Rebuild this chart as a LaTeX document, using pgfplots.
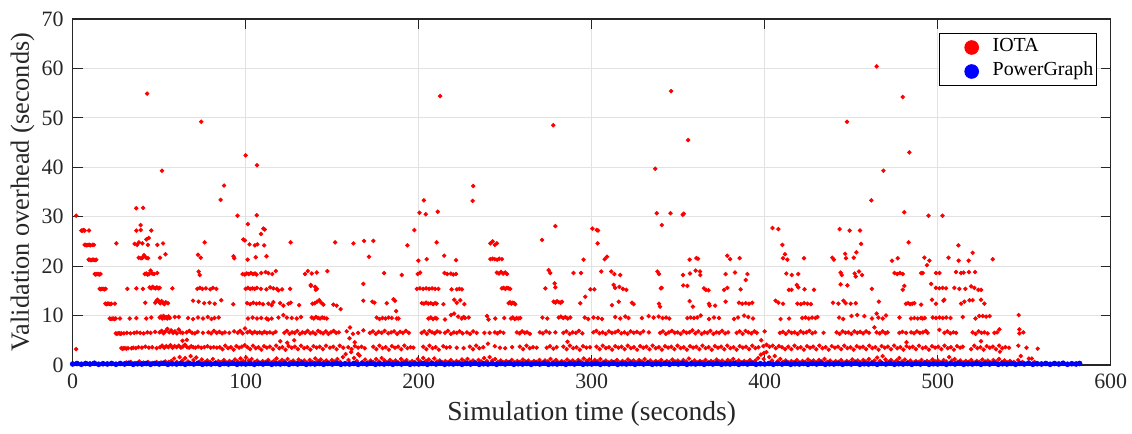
\documentclass[border=0pt]{standalone}
\usepackage{pgfplots}
\pgfplotsset{compat=1.18}
\usepackage{fontspec}
\setmainfont{Liberation Serif}
\usetikzlibrary{calc}
\definecolor{axgray}{RGB}{38,38,38}
\definecolor{gridgray}{RGB}{226,226,226}
\begin{document}
\begin{tikzpicture}
\begin{axis}[
  name=ax,
  scale only axis, width=519bp, height=173bp,
  xmin=0, xmax=600, ymin=0, ymax=70,
  xtick={0,100,...,600}, ytick={0,10,...,70},
  /pgf/number format/assume math mode=true,
  xticklabel={\rmfamily\pgfmathprintnumber[assume math mode=true]{\tick}},
  yticklabel={\rmfamily\pgfmathprintnumber[assume math mode=true]{\tick}},
  grid=major, major grid style={color=gridgray, line width=0.5bp},
  axis line style={color=axgray, line width=0.7bp},
  tick style={color=axgray, line width=0.6bp},
  major tick length=5bp, tick align=inside,
  ticklabel style={font=\rmfamily\fontsize{11}{13}\selectfont, color=axgray},
  xticklabel style={yshift=-1.2bp},
  yticklabel style={xshift=-1bp},
  xlabel={Simulation time (seconds)},
  ylabel={Validation overhead (seconds)},
  xlabel style={at={(axis description cs:0.5,-0.14)}, anchor=center, font=\fontsize{13.8}{16}\selectfont, color=axgray},
  ylabel style={at={(axis description cs:-0.0484,0.5)}, anchor=center, rotate=0, font=\fontsize{13.2}{16}\selectfont, color=axgray},
  legend style={at={(axis description cs:0.9867,0.9595)}, anchor=north east, draw=black, line width=0.5bp, fill=white,
    font=\fontsize{10}{12}\selectfont, inner xsep=1bp, inner ysep=1bp,
    nodes={inner sep=0.5bp, text height=7.5bp, text depth=3.5bp},
    /tikz/every even column/.append style={column sep=5.5bp}},
  legend cell align=left,
  legend image code/.code={\path[draw=none,fill=none] (0bp,0bp) -- (25bp,0bp); \draw[#1, mark size=3.4bp] plot coordinates {(15bp,0bp)};},
]
% IOTA
\addplot[only marks, mark=*, color=red, mark size=0.9bp, mark options={draw=none, fill=red}] coordinates {
(2,30.2)(2,3.2)(43,54.9)(51.6,39.3)(74.3,49.2)(85.5,33.4)(87.5,36.3)(95.3,30.2)(106.4,30.3)(100,42.4)(106.5,40.4)(36.7,31.7)(40.7,31.8)(39.3,28.3)(101.2,28.5)(110.2,27.6)(111,27.4)(108.9,26.5)(200.4,30.8)(203,33.3)(204.1,30.5)(211,31)(212.4,54.4)(197.5,27.3)(231.5,36.2)(231.2,33.2)(277.8,48.5)(279,28.1)(300.4,27.6)(302.9,27.3)(303.6,27.2)(336.7,39.7)(345.9,55.4)(355.7,45.5)(337.6,30.7)(340.5,28.3)(345.5,30.7)(352.6,30.4)(353.2,30.6)(404.5,27.7)(407.9,27.5)(443.3,27.5)(449.1,27.2)(447.6,49.2)(461.6,33.3)(464.7,60.4)(468.6,39.3)(479.8,54.2)(483.6,43)(480.7,30.9)(494.7,30.2)(502.8,30.2)(455.1,27.2)(5,27.2)(5.6,27.2)(6.3,27.3)(6.9,27.2)(9.4,27.2)(36.8,27.2)(39.3,27.3)(45.4,27.2)
(6.9,24.3)(7.5,24.3)(8.2,24.2)(8.9,24.3)(9.6,24.3)(10.3,24.2)(11.5,24.3)(12.3,24.3)(25.2,24.6)(35.8,24.5)(37.3,24.3)(38.3,24.8)(40.3,24.6)(42.6,25.4)(43.5,24.3)(44,25.7)(48.9,24.3)(52.2,24.6)(76.3,24.8)(98.6,25.4)(99.5,25.2)(102.2,24.4)(105.3,24.2)(106.7,24.4)(110.7,24.2)(126,24.8)(151.7,24.8)(162.3,24.6)(168.4,25.1)(173.8,25.1)(193.5,24.2)(210.4,24.8)(241.4,24.6)(242.7,25)(245.2,24.6)(244,24.3)(271.3,25.3)(303.4,24.6)(410.2,24.3)(455.7,24.5)(483.2,24.8)(512,24.2)
(9.2,21.3)(9.9,21.3)(10.6,21.2)(11.4,21.3)(12.2,21.3)(13,21.2)(13.6,21.3)(38.2,21.7)(39.5,21.6)(40.3,21.7)(41.2,22.2)(42.5,21.7)(43.5,21.6)(50.5,21.7)(53.6,22.4)(72.4,22.3)(74,21.7)(93,22)(93.4,21.6)(101.1,21.3)(105.8,21.8)(112,22)(171.3,21.9)(199.8,21.1)(204.6,21.4)(214.7,22.1)(221.6,21.2)(241.4,21.4)(242.7,21.5)(244,21.4)(245.3,21.3)(246.6,21.5)(248.1,21.4)(295.3,21.3)(307.5,21.4)(308.8,21.9)(356.6,21.3)(360.5,21.6)(361.4,21.5)(378.4,22.1)(380,21.4)(385.5,21.6)(410.6,21.6)(411.7,22.4)(413.1,21.3)(422.7,21.6)(439.1,21.7)(440,21.3)(446.5,22.5)(447,21.6)(451.5,21.7)(453,22.8)(473.6,21.1)(476.9,21.6)(492.3,21.7)(495.2,21.1)(493.8,20.2)(506.2,21.7)(512.1,21.1)(517.9,21.1)(520.2,22.7)(531.8,21.4)
(12.7,18.4)(13.3,18.3)(14,18.4)(14.7,18.4)(15.4,18.3)(16.1,18.4)(41.6,18.4)(42.5,18.5)(43.3,18.3)(44.1,18.4)(45,19.1)(46,18.5)(47,18.4)(48.9,18.6)(72.8,18.9)(73.4,18.2)(98.2,18.4)(99.4,18.3)(100.6,18.5)(101.8,18.4)(103,18.6)(104.2,18.4)(105.4,18.5)(106.3,18.3)(109,18.6)(111.5,18.8)(113.1,18.6)(115.4,18.4)(117.4,19)(134.3,18.4)(135.9,19)(138.2,18.5)(141.1,18.7)(147.2,19)(180,18.6)(190.2,18.2)(199.4,18.4)(200.8,18.7)(214.9,18.6)(216.5,18.4)(218.6,18.5)(220,18.3)(221.6,18.4)(245.2,18.7)(246.4,18.5)(247.6,18.8)(248.8,18.5)(250,18.7)(251,18.4)(275.1,19.2)(276,18.6)(289.5,18.6)(293.8,18.6)(305.5,18.9)(311.3,18.9)(313.1,18.4)(316.5,18.2)(338,18.9)(338.9,18.4)(352.8,18.2)(356.8,18.5)(360.1,19.1)(362.6,18.9)(362.8,18.2)(377.4,18.4)(382.8,18.7)(390,18.4)(389,17.2)(412.5,18.5)(415.6,18.2)(419.4,18.4)(443.9,18.7)(444.5,18.2)(452,18.5)(454.5,18.9)(456.3,18.2)(475,18.6)(476.6,18.4)(478.2,18.6)(479.8,18.4)(490.4,18.6)(491.4,18.6)(499,18.6)(501,18.6)(510.6,18.8)(513.5,18.6)(515,18.7)(518,18.8)(521.6,18.8)(168,16.4)(496.2,16.4)(278.6,16.5)(312.7,16.2)(452.6,17.9)(137.7,16)
(15.6,15.4)(16.2,15.3)(16.9,15.4)(17.6,15.4)(18.3,15.3)(19,15.4)(31.6,15.4)(36.8,15.5)(40.6,15.4)(44.5,15.7)(45.3,15.5)(46.2,15.8)(47,15.6)(47.8,15.5)(48.6,15.7)(49.5,15.5)(50.3,15.6)(57.6,15.5)(72,15.4)(73.5,15.6)(75,15.4)(77,15.5)(79.5,15.3)(81,15.6)(83,15.4)(100,15.4)(101.3,15.6)(102.6,15.4)(103.9,15.5)(105.2,15.4)(106.5,15.6)(108.8,15.4)(112,15.3)(114.1,15.7)(116,15.5)(118,15.4)(118.9,15.1)(121,15.3)(125.7,15.4)(137.6,16.2)(140.1,15.8)(140.5,15.2)(141.1,15.4)(198.9,15.4)(200.7,15.5)(202.5,15.4)(204.3,15.5)(206,15.4)(207.7,15.5)(209.5,15.4)(211.4,15.4)(219,15.3)(222,15.3)(223.5,15.4)(225,15.3)(248.1,15.5)(249.1,15.6)(250.1,15.4)(251,15.6)(252,15.5)(252.9,15.4)(273.2,15.5)(279,15.7)(299.2,15.3)(301.5,15.3)(313.5,15.6)(316,15.8)(318,15.4)(320,15.2)(340,15.5)(340.4,15.6)(352.9,16.1)(355.3,16)(364.9,15.5)(366,15.2)(367.5,15.1)(376.5,15.2)(378.4,15.6)(386.1,15.3)(414,15.2)(415.5,15.2)(418.5,16.2)(419.4,15.7)(423,15.3)(428.5,15.2)(443.9,16.3)(447.8,16.1)(461.9,15.4)(479.8,15.2)(480.7,16)(499,15.6)(500.9,15.5)(502.8,15.6)(504.8,15.5)(509.6,15.6)(512.5,15.4)(516,15.4)(519.3,15.9)(521.2,15.6)(523.5,15.2)(525.1,15.2)
(18.9,12.4)(19.5,12.3)(20.2,12.4)(20.9,12.4)(21.6,12.3)(22.3,12.4)(24.4,12.4)(41.9,12.6)(47.7,12.6)(48.3,12.9)(49,13.2)(49.8,12.8)(50.6,12.5)(51.4,12.9)(52.2,12.6)(53,12.3)(53.8,12.7)(55.1,12.5)(69.6,13)(72.8,12.8)(76,12.5)(79.1,12.6)(82.1,12.4)(85.9,13.1)(92.8,12.3)(100.8,12.5)(102.6,12.3)(104.4,12.6)(106.2,12.4)(108,12.5)(110,12.3)(113.1,12.4)(115,12.1)(116,12.7)(119.9,12.5)(121.8,12)(124.7,12.4)(126,12.6)(130.9,12.1)(138.6,12.4)(139.9,12.5)(141.2,12.8)(142.5,13.1)(143.7,12.6)(144.9,12.2)(150.7,12.2)(152.6,12)(154.9,11.3)(168,13)(173.2,12.8)(174.4,12.6)(181.5,12.5)(185.4,13.3)(186.3,13)(187,10.9)(201.8,12.5)(203,12.4)(204.3,12.6)(205.6,12.4)(207,12.5)(208.3,12.3)(209.5,12.5)(210.4,12.4)(214.3,12.3)(220.5,13.2)(222,12.6)(224,13.1)(226.4,12.3)(252,12.5)(252.8,12.7)(253.6,12.4)(254.4,12.6)(255.2,12.5)(255.8,12.3)(278,12.8)(279,12.6)(280,12.9)(281,12.7)(282,12.6)(282.8,12.8)(293.4,12.5)(296.3,13.8)(311.7,12.1)(315.6,12.8)(323.3,12.6)(324.2,12.3)(338.9,12.4)(339.5,11.8)(356.6,12.9)(358.5,11.8)(367.8,12.4)(368.2,12)(371.3,12)(377.4,12.8)(385.1,12.6)(387,12.4)(389,12.5)(390.9,12.4)(392.8,12.6)(406.3,13)(407.9,12.6)(410.6,12.4)(418.9,12.4)(420.9,12.3)(422.8,12.5)(424.7,12.4)(426.7,12.3)(439.5,12.6)(442.6,12.4)(445.5,13)(446.8,12.5)(449.7,12.4)(452.6,12.5)(466,12.8)(481.7,12.4)(482.9,12.5)(484.1,12.3)(485.3,12.4)(486.5,12.5)(490.4,12.2)(496.7,13.2)(499,12.4)(503.3,13)(503.8,13.2)(513.5,12.4)(515.4,12.8)(518.4,13.1)(520.2,13.1)(525,13.2)(527,12.4)
(21.4,9.4)(22.1,9.3)(22.8,9.4)(23.5,9.4)(24.2,9.3)(24.9,9.4)(27.3,9.4)(33,9.4)(36.8,9.5)(42.5,9.4)(45.4,9.6)(50.3,9.6)(51,9.8)(51.8,9.4)(52.5,9.9)(53.2,9.5)(54,9.7)(54.7,9.4)(55.4,9.8)(56.1,9.5)(59,9.7)(61.3,9.7)(66.7,9.5)(69.6,9.3)(72.4,9.6)(75.3,9.4)(78.1,9.7)(80.2,9.3)(82,9.5)(84.4,9.6)(101.3,9.4)(104,9.6)(106.5,9.4)(109,9.5)(112,9.4)(113.1,9.2)(115,9.4)(118.9,9.6)(121.8,10.1)(123.8,9.6)(126.6,9.5)(129.5,9.4)(132,9.7)(138.2,9.6)(139.4,9.4)(140.6,9.7)(141.8,9.5)(143,9.4)(144.2,9.6)(145.4,9.5)(146.8,9.4)(175.7,9.6)(177.4,9.3)(179.1,9.5)(180.8,9.4)(182.6,9.6)(184.4,9.5)(187.3,9.4)(188.3,9.4)(205.6,9.4)(207,9.6)(208.3,9.3)(209.5,9.5)(210.4,9.4)(215.2,9.2)(218.7,10.1)(220.5,10.4)(222.8,9.8)(224.9,9.4)(226.8,9.5)(226,9.7)(228.9,9.6)(239.5,9.9)(240.4,9.2)(244.3,9.4)(249.5,9.5)(253.3,9.4)(254.4,9.6)(255.5,9.3)(256.6,9.5)(257.6,9.4)(258.7,9.5)(271.5,9.6)(274.3,9.4)(280.9,9.6)(282.2,9.8)(283.5,9.5)(284.8,9.7)(286.1,9.4)(287.6,9.6)(296,9.6)(298,9.3)(301,9.6)(303.6,9.5)(306,9.3)(313.6,9.7)(316.5,9.4)(319.4,9.8)(321.3,9.5)(329,9.5)(332.9,9.9)(335.8,9.6)(338.7,9.8)(341,9.5)(343,9.6)(344.8,9.4)(355.3,9.5)(357.2,9.6)(359.1,9.5)(361,9.6)(363,10)(367.8,9.3)(370.7,9.6)(373.6,9.5)(382.3,9.3)(384.6,9.6)(388.1,10)(390.5,9.7)(393.2,9.4)(409.2,9.3)(414.1,9.4)(421.7,9.5)(423.6,9.6)(425.5,9.4)(427.4,9.6)(429.3,9.5)(430.5,9.7)(443,9.6)(445.4,9.3)(450.2,9.9)(453.5,10.1)(457.6,9.9)(462,9.4)(464.7,10.4)(465.7,9.6)(468.2,9.4)(470.1,10)(477.9,9.6)(484.6,9.4)(486.5,9.5)(488.4,9.4)(490.3,9.5)(491.3,9.4)(492.5,9.5)(497.1,9.6)(499,9.5)(501,9.6)(502.9,9.5)(504.9,9.6)(507.4,9.5)(514.5,9.7)(521.8,9.4)(524,9.9)(526,9.9)(528,9.8)(530,9.9)(546.8,10.1)
(24.9,6.4)(25.5,6.3)(26.2,6.4)(26.9,6.4)(27.6,6.3)(28.1,6.4)(29.6,6.4)(31.3,6.5)(33.4,6.4)(35.5,6.5)(37.1,6.6)(39,6.5)(41,6.4)(43.2,6.6)(45,6.5)(47.6,6.7)(50.2,6.6)(51.4,6.9)(52.5,6.4)(53.6,6.8)(54.7,7.3)(55.8,6.6)(56.9,7)(58,6.5)(59.1,6.8)(60.2,6.4)(61.3,7.2)(62.4,6.6)(63.5,6.5)(65.8,6.6)(67.4,6.9)(69,6.5)(70.6,6.4)(72.2,6.7)(75.3,6.5)(78.4,6.6)(80,6.4)(81.6,6.9)(83.2,6.5)(84.8,6.7)(86.4,6.4)(88,6.6)(90.5,6.5)(93.3,6.8)(95.4,6.5)(96.8,6.9)(98.2,6.4)(99.6,7.4)(101,6.6)(102.4,6.8)(103.8,6.4)(105.2,6.7)(106.6,6.5)(108,6.6)(109.4,6.4)(110.8,6.7)(112.2,6.5)(114,6.6)(115.8,6.4)(117.3,6.7)(122.3,6.5)(123.8,6.9)(125.3,6.3)(126.8,6.6)(128.3,6.5)(129.8,6.9)(131.3,6.3)(132.8,6.6)(134.3,6.5)(135.8,6.9)(137.3,6.4)(138.8,6.6)(140.3,6.3)(141.8,6.9)(143.3,6.6)(144.8,6.4)(146.3,6.8)(147.8,6.3)(149.3,6.6)(150.8,6.9)(152.3,6.5)(153.8,6.6)(158.4,6.8)(160.3,7.6)(162,6.3)(165,6.5)(168,7)(171.8,6.5)(173.5,6.8)(175.2,6.3)(176.9,6.7)(178.6,6.5)(180.3,6.9)(182.4,6.4)(184.1,6.6)(185.8,6.8)(187.5,6.3)(189.2,6.7)(190.9,6.5)(192.6,6.9)(194.3,6.5)(201.7,6.5)(203.2,6.8)(204.7,6.3)(206.2,6.9)(207.7,6.6)(209.2,6.4)(210.7,6.8)(212.3,6.6)(215.2,6.5)(216.9,6.9)(218.6,6.3)(220.3,6.6)(222,6.5)(223.7,6.8)(225.4,6.4)(227.9,6.6)(229.7,6.3)(231.5,6.8)(233.5,6.5)(238,6.5)(241,6.5)(244,6.6)(245.5,6.4)(247,6.7)(249,6.5)(256.8,6.6)(258.3,6.4)(259.8,6.8)(261.3,6.5)(262.6,6.6)(264.3,6.3)(270,6.6)(271.8,6.4)(273.6,6.8)(275.6,6.5)(279,6.6)(283.6,6.5)(285.4,6.8)(287.2,6.3)(289,6.6)(290.8,6.5)(292.6,6.9)(294.6,6.4)(300.9,6.6)(302.7,6.9)(304.5,6.4)(306.3,6.6)(308.1,6.3)(309.9,6.8)(311.7,6.5)(313.5,6.6)(315.3,6.9)(317.1,6.4)(318.9,6.6)(320.7,6.3)(322.5,6.8)(324.3,6.5)(326.1,6.7)(328,6.4)(329.8,6.8)(333,6.6)(339.5,6.5)(341.2,6.8)(342.9,6.3)(344.6,6.6)(346.3,6.9)(348,6.5)(349.7,6.6)(351.4,6.3)(353.1,6.8)(354.8,6.5)(356.5,6.6)(358.2,7)(359.9,6.4)(361.6,6.8)(363.5,6.3)(365.2,6.6)(366.9,6.5)(368.6,6.9)(370.3,6.3)(372,6.6)(373.7,6.5)(375.4,6.9)(377.1,6.4)(378.8,6.6)(383.8,6.5)(385.5,6.8)(387.2,6.3)(388.9,6.9)(390.6,6.6)(392.3,6.4)(394,6.8)(395.4,6.5)(400,6.8)(408.8,6.5)(410.5,6.7)(412.2,6.3)(413.9,6.8)(415.6,6.5)(417.3,6.6)(419,6.3)(420.7,6.8)(422.4,6.5)(424.1,6.6)(425.8,6.9)(427.5,6.4)(429.2,6.6)(434,6.5)(441.6,6.6)(443.3,6.3)(445,6.8)(446.7,6.5)(448.4,6.6)(450.1,6.3)(451.8,6.8)(453.5,6.5)(455.2,6.7)(456.9,6.4)(458.6,6.8)(460.3,6.5)(463.4,7.6)(464.7,6.6)(466.4,6.4)(468.1,6.8)(469.8,6.4)(471.1,6.6)(477.8,6.5)(479.6,6.7)(481.7,6.5)(484.6,6.6)(486.3,6.4)(488,6.8)(489.7,6.5)(491.4,6.6)(493.1,6.9)(494.2,6.5)(501,7.1)(503.9,6.5)(505.6,6.8)(507.3,6.4)(509,6.6)(510.6,6.5)(520.2,6.6)(521.9,6.3)(523.6,6.8)(525.3,6.5)(527,6.6)(528.9,6.4)(532.8,6.5)(534.3,6.6)(535.7,7.2)(547.2,7.2)(547.2,6.4)(549.5,6.6)
(28.1,3.4)(28.8,3.3)(29.5,3.4)(30.2,3.4)(31,3.3)(32,3.4)(34,3.4)(35,3.5)(36.5,3.4)(38,3.6)(40,3.5)(42,3.7)(44,3.5)(46,3.6)(48.5,3.4)(50.5,3.6)(51.7,3.9)(52.9,3.5)(54.1,3.8)(55.3,3.6)(56.5,4)(57.7,3.5)(58.9,3.8)(60.1,3.6)(61.3,3.9)(62.5,3.5)(63.7,3.7)(64.9,4.1)(66.1,3.6)(67.3,3.5)(68.5,3.8)(69.7,3.6)(70.9,3.5)(72.5,3.7)(74.3,3.5)(76.1,3.6)(77.9,3.8)(79.7,3.5)(81.5,3.6)(83.3,3.5)(85,3.6)(86.6,3.2)(88.2,3.9)(89.8,3.4)(91.4,3.6)(93,3.1)(94.6,3.8)(96.2,3.5)(97.8,3.7)(99.4,4)(101,3.6)(102.6,3.2)(104.2,3.9)(105.8,3.4)(107.4,3.6)(109,3.1)(110.6,3.8)(112.2,3.5)(114,3.7)(115.8,3.2)(117.6,3.9)(119.4,3.4)(121.2,3.6)(123,3.1)(124.8,3.8)(126.6,3.5)(128.4,3.7)(130.2,3.2)(132,3.9)(133.8,3.4)(135.6,3.6)(137.4,3.1)(139.2,3.8)(141,3.5)(142.8,3.7)(144.6,3.2)(146.4,3.9)(148.7,3.5)(150.6,3.7)(152.5,3.2)(154.4,3.9)(156.4,3.5)(159.3,3.6)(161.2,3.2)(163.1,3.8)(165,3.5)(166.9,3.7)(168.8,3.4)(173.7,3.7)(175.5,3.2)(177.3,3.9)(179.1,3.4)(180.9,3.6)(182.7,3.1)(184.5,3.8)(186.3,3.5)(188.1,3.7)(189.9,3.2)(191.7,3.9)(193.5,3.4)(195.3,3.6)(196.9,3.5)(202.6,3.7)(204.4,3.2)(206.2,3.9)(208,3.4)(209.8,3.6)(211.6,3.1)(214.2,3.8)(216,3.5)(218,3.6)(222,3.5)(226,3.4)(229.6,3.7)(231.4,3.2)(233.2,3.9)(235,3.4)(237.3,3.6)(244,3.8)(247,3.5)(250,3.4)(254,3.6)(258.5,3.7)(260.4,3.2)(262.3,3.9)(264.2,3.4)(266.1,3.6)(268.2,3.5)(274,3.5)(275.9,3.8)(277.8,3.3)(279.7,3.6)(283.6,3.7)(285.5,3.2)(287.4,3.9)(289.3,3.4)(291.2,3.6)(293.1,3.1)(295,3.8)(296.9,3.5)(299,3.6)
(302.8,3.7)(304.6,3.2)(306.4,3.9)(308.2,3.4)(310,3.6)(311.8,3.1)(313.6,3.8)(315.4,3.5)(317.2,3.7)(319,3.2)(320.8,3.9)(322.6,3.4)(324.4,3.6)(326.2,3.1)(328,3.8)(329.8,3.5)(331.6,3.7)(333.4,3.2)(335.2,3.9)(337,3.4)(338.8,3.6)(340.6,3.1)(342.4,3.8)(344.2,3.5)(346,3.7)(347.8,3.2)(349.6,3.9)(351.4,3.4)(353.2,3.6)(355,3.1)(356.8,3.8)(358.6,3.5)(360.4,3.7)(362.2,3.2)(364,3.9)(365.8,3.4)(367.6,3.6)(369.4,3.1)(371.2,3.8)(373,3.5)(374.8,3.7)(376.6,3.2)(378.4,3.9)(380.2,3.4)(382,3.6)(383.8,3.1)(385.6,3.8)(387.4,3.5)(389.2,3.7)(391,3.2)(392.8,3.9)(394.6,3.4)(396.4,3.6)(399.2,3.8)(401,4.1)(402.8,3.7)(404.6,3.9)(406.4,3.4)(408.2,3.8)(410,3.6)(411.8,3.2)(413.6,3.7)(415.4,3.2)(417.2,3.9)(419,3.4)(420.8,3.6)(422.6,3.1)(424.4,3.8)(426.2,3.5)(428,3.7)(429.8,3.2)(431.6,3.9)(433.4,3.4)(435.2,3.6)(437,3.1)(438.8,3.8)(440.6,3.5)(442.4,3.7)(444.2,3.2)(446,3.9)(447.8,3.4)(449.6,3.6)(451.4,3.1)(453.2,3.8)(455,3.5)(456.8,3.7)(458.6,3.2)(460.4,3.9)(462.2,3.4)(464,3.6)(465.8,3.1)(467.6,3.8)(469.4,3.5)(471.2,3.7)(473,3.2)(474.8,3.9)(476.6,3.4)(478.4,3.6)(480.2,3.1)(482,3.8)(483.8,3.5)(485.6,3.7)(487.4,3.2)(489.2,3.9)(491.3,3.4)(493.1,3.6)(494.9,3.1)(496.7,3.8)(498.5,3.5)(500.3,3.7)(502.1,3.2)(503.9,3.9)(505.8,3.4)(507.6,3.6)(509.4,3.1)(511.2,3.8)(513,3.5)(514.5,3.7)(519.3,3.2)(521.1,3.9)(522.9,3.4)(524.7,3.6)(526.5,3.1)(528.3,3.8)(530.1,3.5)(531.9,3.7)(533.7,3.2)(535.5,3.9)(537.3,3.4)(539.1,3.6)(541.2,3.5)(546.6,3.9)(551.3,3.5)(557.8,3.3)
(63.5,4.9)(66,5.1)(120,4.8)(124,4.5)(128,5)(160,5.4)(163,4.6)(165,2.2)(240,4.3)(286,4.7)(398,5)(399.5,2.4)(482,4.6)(525,4.8)(536,2.7)(548,1.8)
(31,0.5)(33.5,0.6)(36,0.4)(38.5,0.7)(41,0.5)(43.5,0.6)(46,0.4)(48.5,0.6)(51,0.5)(53.5,0.7)(55.5,0.6)
(57,0.8)(58.6,1.3)(60.2,0.6)(61.8,1.6)(63.4,0.9)(65,1.4)(66.6,0.7)(68.2,1.8)(69.8,1)(71.4,1.5)(73,0.6)(74.6,1.1)(76.2,0.5)(77.8,0.9)(79.4,0.6)(81,1.2)(82.6,0.5)(84.2,0.8)(85.8,0.6)(87.4,1)(89,0.5)(90.6,0.8)(92.2,0.6)(93.8,1.1)(95.4,0.7)(97,1.3)(98.6,0.8)(100.2,1.5)(101.8,0.9)(103.4,1.2)(105,0.6)(106.6,0.9)(108.2,0.5)(109.8,0.8)(111.4,0.6)(113,1)(114.6,0.5)(116.2,0.8)(117.8,1.3)(119.4,0.6)(121,1)(122.6,0.7)(124.2,1.2)(125.8,0.6)(127.4,0.9)(129,0.5)(130.6,1.1)(132.2,0.7)(133.8,0.9)(135.4,0.5)(137,1)(138.6,0.6)(140.2,1.3)(141.8,0.8)(143.4,1.1)(145,0.6)(146.6,0.9)(148.2,0.5)(149.8,1)(151.4,0.7)(153,1.2)(154.6,0.6)(156.2,1.6)(157.8,2.2)(159.4,1)(161,2.6)(162.6,1.4)(164.2,0.8)(165.8,1.9)(167.4,0.6)(169,1.1)(170.6,0.5)(172.2,0.9)(173.8,0.6)(175.4,1.2)(177,0.7)(178.6,1.4)(180.2,0.9)(181.8,0.5)(183.4,1)(185,0.6)(186.6,0.9)(188.2,0.5)(189.8,1.2)(191.4,0.7)(193,1)(194.6,0.5)(196.2,0.8)(197.8,0.6)(199.4,1.2)(201,0.7)(202.6,1.4)(204.2,0.8)(205.8,1.1)(207.4,0.6)(209,1.3)(210.6,0.7)(212.2,0.9)(213.8,0.5)(215.4,0.8)(217,0.6)(218.6,1)(220.2,0.5)(221.8,0.8)(223.4,0.6)(225,1.1)(226.6,0.7)(228.2,1.2)(229.8,0.6)(231.4,0.9)(233,0.5)(234.6,1)(236.2,0.7)(237.8,1.4)(239.4,0.8)(241,1.6)(242.6,0.9)(244.2,1.2)(245.8,0.6)(247.4,0.9)(249,0.5)(250.6,0.8)(252.2,0.6)(253.8,1)(255.4,0.5)(257,0.8)(258.6,0.6)(260.2,1.1)(261.8,0.7)(263.4,0.9)(265,0.5)(266.6,0.8)(268.2,0.6)(269.8,1)(271.4,0.5)(273,0.9)(274.6,0.7)(276.2,1.2)(277.8,0.6)(279.4,1)(281,0.5)(282.6,0.8)(284.2,0.6)(285.8,1.1)(287.4,0.7)(289,0.9)(290.6,0.5)(292.2,1)(293.8,0.7)(295.4,1.3)(297,0.8)(298.6,1.1)(300.2,0.6)(301.8,1)(303.4,0.7)(305,1.2)(306.6,0.6)(308.2,0.9)(309.8,0.5)(311.4,0.8)(313,0.6)(314.6,1)(316.2,0.5)(317.8,0.8)(319.4,0.6)(321,1.1)(322.6,0.7)(324.2,0.9)(325.8,0.5)(327.4,1)(329,0.7)(330.6,1.2)(332.2,0.6)(333.8,0.9)(335.4,0.5)(337,0.8)(338.6,0.6)(340.2,1)(341.8,0.5)(343.4,0.8)(345,0.6)(346.6,1.1)(348.2,0.7)(349.8,0.9)(351.4,0.5)(353,1)(354.6,0.7)(356.2,1.3)(357.8,0.6)(359.4,0.9)(361,0.5)(362.6,0.8)(364.2,0.6)(365.8,1)(367.4,0.5)(369,0.8)(370.6,0.6)(372.2,1.1)(373.8,0.7)(375.4,0.9)(377,0.5)(378.6,1)(380.2,0.7)(381.8,1.2)(383.4,0.6)(385,0.9)(386.6,0.5)(388.2,0.8)(389.8,0.6)(391.4,1)(393,0.5)(394.6,0.9)(396.2,1.4)(397.8,2.1)(399.4,1.2)(401,2.6)(402.6,1.6)(404.2,0.9)(405.8,1.8)(407.4,0.7)(409,1.2)(410.6,0.6)(412.2,0.9)(413.8,0.5)(415.4,0.8)(417,0.6)(418.6,1)(420.2,0.5)(421.8,0.8)(423.4,0.6)(425,1.1)(426.6,0.7)(428.2,0.9)(429.8,0.5)(431.4,1)(433,0.7)(434.6,1.2)(436.2,0.6)(437.8,0.9)(439.4,0.5)(441,0.8)(442.6,0.6)(444.2,1)(445.8,0.5)(447.4,0.8)(449,0.6)(450.6,1.1)(452.2,0.7)(453.8,0.9)(455.4,0.5)(457,1)(458.6,0.7)(460.2,1.2)(461.8,0.6)(463.4,0.9)(465,1.5)(466.6,0.8)(468.2,1.8)(469.8,1.1)(471.4,0.6)(473,1)(474.6,0.5)(476.2,0.9)(477.8,1.4)(479.4,0.7)(481,1.1)(482.6,0.6)(484.2,0.9)(485.8,0.5)(487.4,0.8)(489,0.6)(490.6,1)(492.2,0.5)(493.8,0.8)(495.4,0.6)(497,1.1)(498.6,0.7)(500.2,0.9)(501.8,0.5)(503.4,1)(505,0.7)(506.6,1.6)(508.2,0.9)(509.8,1.2)(511.4,0.6)(513,0.9)(514.6,0.5)(516.2,0.8)(517.8,0.6)(519.4,1)(521,0.5)(522.6,0.8)(524.2,0.6)(525.8,1.1)(527.4,0.7)(529,0.9)(530.6,0.5)(532.2,1)(533.8,0.7)(535.4,1.2)(537,0.6)(538.6,0.9)(540.2,0.5)(541.8,0.8)(544,0.6)(546.5,1)(549,0.6)(552.7,1.3)(554.4,1.3)(556,0.6)
};
\addlegendentry{IOTA}
% PowerGraph
\addplot[only marks, mark=*, color=blue, mark size=1.2bp, mark options={draw=none, fill=blue}] coordinates {
(0,0.2)(2.5,0.3)(5,0.15)(7.5,0.3)(10,0.2)(12.5,0.35)(15,0.15)(17.5,0.25)(20,0.2)(22.5,0.3)(25,0.15)(27.5,0.3)(30,0.2)(32.5,0.35)(35,0.15)(37.5,0.25)(40,0.2)(42.5,0.3)(45,0.15)(47.5,0.3)
(50,0.2)(52.5,0.35)(55,0.15)(57.5,0.25)(60,0.2)(62.5,0.3)(65,0.15)(67.5,0.3)(70,0.2)(72.5,0.35)(75,0.15)(77.5,0.25)(80,0.2)(82.5,0.3)(85,0.15)(87.5,0.3)(90,0.2)(92.5,0.35)(95,0.15)(97.5,0.25)
(100,0.2)(102.5,0.3)(105,0.15)(107.5,0.3)(110,0.2)(112.5,0.35)(115,0.15)(117.5,0.25)(120,0.2)(122.5,0.3)(125,0.15)(127.5,0.3)(130,0.2)(132.5,0.35)(135,0.15)(137.5,0.25)(140,0.2)(142.5,0.3)(145,0.15)(147.5,0.3)
(150,0.2)(152.5,0.35)(155,0.15)(157.5,0.25)(160,0.2)(162.5,0.3)(165,0.15)(167.5,0.3)(170,0.2)(172.5,0.35)(175,0.15)(177.5,0.25)(180,0.2)(182.5,0.3)(185,0.15)(187.5,0.3)(190,0.2)(192.5,0.35)(195,0.15)(197.5,0.25)
(200,0.2)(202.5,0.3)(205,0.15)(207.5,0.3)(210,0.2)(212.5,0.35)(215,0.15)(217.5,0.25)(220,0.2)(222.5,0.3)(225,0.15)(227.5,0.3)(230,0.2)(232.5,0.35)(235,0.15)(237.5,0.25)(240,0.2)(242.5,0.3)(245,0.15)(247.5,0.3)
(250,0.2)(252.5,0.35)(255,0.15)(257.5,0.25)(260,0.2)(262.5,0.3)(265,0.15)(267.5,0.3)(270,0.2)(272.5,0.35)(275,0.15)(277.5,0.25)(280,0.2)(282.5,0.3)(285,0.15)(287.5,0.3)(290,0.2)(292.5,0.35)(295,0.15)(297.5,0.25)
(300,0.2)(302.5,0.3)(305,0.15)(307.5,0.3)(310,0.2)(312.5,0.35)(315,0.15)(317.5,0.25)(320,0.2)(322.5,0.3)(325,0.15)(327.5,0.3)(330,0.2)(332.5,0.35)(335,0.15)(337.5,0.25)(340,0.2)(342.5,0.3)(345,0.15)(347.5,0.3)
(350,0.2)(352.5,0.35)(355,0.15)(357.5,0.25)(360,0.2)(362.5,0.3)(365,0.15)(367.5,0.3)(370,0.2)(372.5,0.35)(375,0.15)(377.5,0.25)(380,0.2)(382.5,0.3)(385,0.15)(387.5,0.3)(390,0.2)(392.5,0.35)(395,0.15)(397.5,0.25)
(400,0.2)(402.5,0.3)(405,0.15)(407.5,0.3)(410,0.2)(412.5,0.35)(415,0.15)(417.5,0.25)(420,0.2)(422.5,0.3)(425,0.15)(427.5,0.3)(430,0.2)(432.5,0.35)(435,0.15)(437.5,0.25)(440,0.2)(442.5,0.3)(445,0.15)(447.5,0.3)
(450,0.2)(452.5,0.35)(455,0.15)(457.5,0.25)(460,0.2)(462.5,0.3)(465,0.15)(467.5,0.3)(470,0.2)(472.5,0.35)(475,0.15)(477.5,0.25)(480,0.2)(482.5,0.3)(485,0.15)(487.5,0.3)(490,0.2)(492.5,0.35)(495,0.15)(497.5,0.25)
(500,0.2)(502.5,0.3)(505,0.15)(507.5,0.3)(510,0.2)(512.5,0.35)(515,0.15)(517.5,0.25)(520,0.2)(522.5,0.3)(525,0.15)(527.5,0.3)(530,0.2)(532.5,0.35)(535,0.15)(537.5,0.25)(540,0.2)(542.5,0.3)(545,0.15)(547.5,0.3)
(550,0.2)(552.5,0.35)(555,0.15)(557.5,0.25)(560,0.2)(562.5,0.3)(565,0.15)(567.5,0.3)(570,0.2)(572.5,0.35)(575,0.15)(577.5,0.25)(580,0.2)(582,0.3)
};
\addlegendentry{PowerGraph}
\end{axis}
\pgfresetboundingbox
\path[use as bounding box] ($(ax.south west)+(-36.35bp,-34.5bp)$) rectangle ($(ax.north east)+(10.65bp,9.5bp)$);
\end{tikzpicture}
\end{document}
